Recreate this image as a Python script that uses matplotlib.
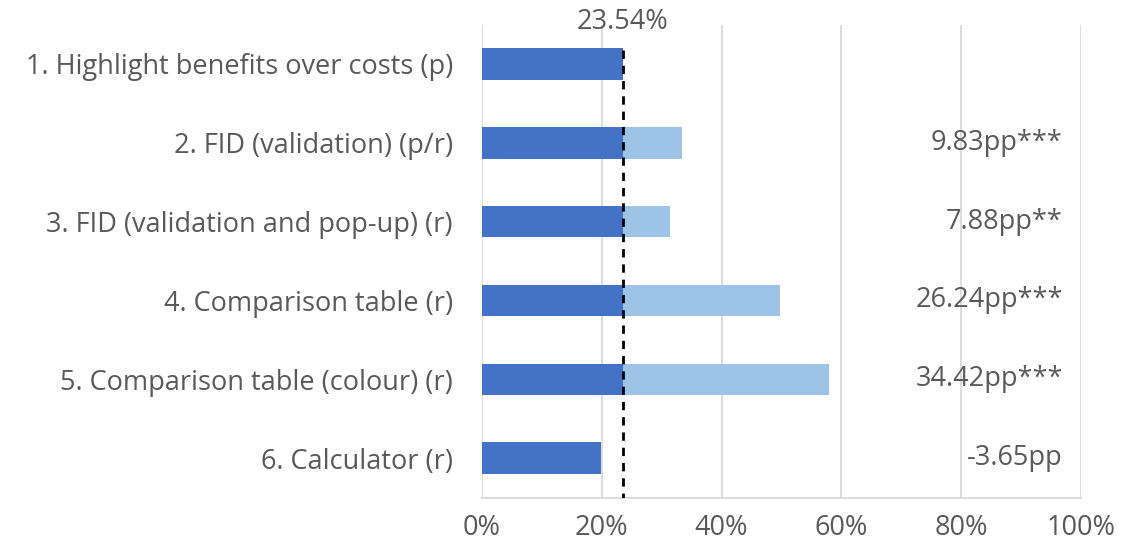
import matplotlib
matplotlib.use("Agg")
import matplotlib.pyplot as plt
from matplotlib.ticker import PercentFormatter

categories = [
    "1. Highlight benefits over costs (p)",
    "2. FID (validation) (p/r)",
    "3. FID (validation and pop-up) (r)",
    "4. Comparison table (r)",
    "5. Comparison table (colour) (r)",
    "6. Calculator (r)",
]
baseline = 23.54
effects = [0.0, 9.83, 7.88, 26.24, 34.42, -3.65]
effect_labels = ["", "9.83pp***", "7.88pp**", "26.24pp***", "34.42pp***", "-3.65pp"]

dark = "#4472C4"
light = "#9DC3E6"
text_col = "#595959"
fs = 19.5

plt.rcParams["font.family"] = ["Open Sans", "DejaVu Sans"]

fig = plt.figure(figsize=(11.24, 5.51), dpi=100)
ax = fig.add_axes([0.4288, 0.097, 0.5329, 0.8585])

ys = list(range(len(categories)))
base_vals = [baseline + min(e, 0) for e in effects]
inc_vals = [max(e, 0) for e in effects]
ax.barh(ys, base_vals, height=0.4, color=dark, zorder=2)
ax.barh(ys, inc_vals, left=base_vals, height=0.4, color=light, zorder=2)

ax.plot([baseline, baseline], [-0.18, 5.5], color="black", linestyle=(0, (3, 2.5)),
        linewidth=2, zorder=3)
ax.text(baseline, -0.53, f"{baseline:.2f}%", ha="center", va="center",
        fontsize=fs, color=text_col)

for y, lab in zip(ys, effect_labels):
    if lab:
        ax.text(97, y, lab, ha="right", va="center", fontsize=fs, color=text_col)

ax.set_xlim(0, 100)
ax.set_ylim(5.5, -0.5)
ax.set_xticks([0, 20, 40, 60, 80, 100])
ax.xaxis.set_major_formatter(PercentFormatter(decimals=0))
ax.set_yticks(ys)
ax.set_yticklabels(categories)
ax.tick_params(axis="both", length=0, labelsize=fs, labelcolor=text_col)
ax.tick_params(axis="x", pad=12)
ax.tick_params(axis="y", pad=21)
ax.grid(axis="x", color="#d9d9d9", linewidth=1.3, zorder=0)
for s in ["top", "right", "left"]:
    ax.spines[s].set_visible(False)
ax.spines["bottom"].set_color("#d9d9d9")
ax.spines["bottom"].set_linewidth(1.3)

fig.savefig("out.png", dpi=100)
